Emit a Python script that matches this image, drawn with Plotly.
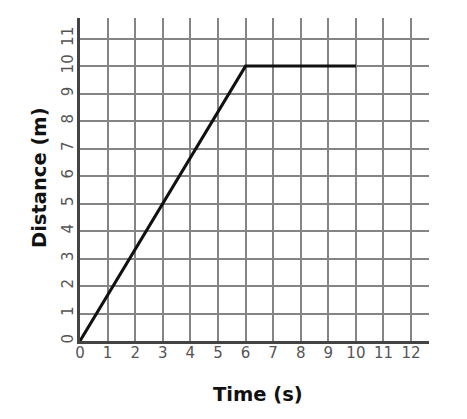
import plotly.graph_objects as go

time_s = [0, 6, 10]
distance_m = [0, 10, 10]
x_ticks = list(range(0, 13))
y_ticks = list(range(0, 12))

fig = go.Figure()
fig.add_trace(go.Scatter(x=time_s, y=distance_m, mode="lines",
                         line=dict(color="#111111", width=3), hoverinfo="skip"))

# page body has an 8px margin, so figure coords = screen coords - 8
OFF = 8
W, H = 467 - OFF, 419 - OFF
pl, pr, pt, pb = 80 - OFF, 429 - OFF, 18 - OFF, 341 - OFF
L, R, T, B = pl, W - pr, pt, H - pb
PW, PH = pr - pl, pb - pt

fig.update_layout(
    width=W, height=H,
    margin=dict(l=L, r=R, t=T, b=B, autoexpand=False),
    paper_bgcolor="white", plot_bgcolor="white",
    showlegend=False,
    font=dict(family="DejaVu Sans", color="#555555", size=15),
)
fig.update_xaxes(range=[0, 12.65], tickvals=x_ticks, ticktext=[str(v) for v in x_ticks],
                 showgrid=True, gridcolor="#858585", gridwidth=2,
                 showline=True, linecolor="#444444", linewidth=3,
                 zeroline=False, ticks="", ticklabelstandoff=-4, automargin=False,
                 tickfont=dict(family="DejaVu Sans", size=15, color="#555555"))
fig.update_yaxes(range=[0, 11.75], tickvals=y_ticks, ticktext=[str(v) for v in y_ticks],
                 showgrid=True, gridcolor="#858585", gridwidth=2,
                 showline=True, linecolor="#444444", linewidth=3,
                 zeroline=False, ticks="", tickangle=-90, ticklabelstandoff=-2, automargin=False,
                 tickfont=dict(family="DejaVu Sans", size=15, color="#555555"))

def px_to_paper_x(sx):
    return (sx - OFF - pl) / PW

def px_to_paper_y(sy):
    return (pb - (sy - OFF)) / PH

fig.add_annotation(text="<b>Time (s)</b>", xref="paper", yref="paper",
                   x=px_to_paper_x(258), y=px_to_paper_y(394),
                   xanchor="center", yanchor="middle",
                   showarrow=False, font=dict(family="DejaVu Sans", size=19.5, color="#111111"))
fig.add_annotation(text="<b>Distance (m)</b>", xref="paper", yref="paper",
                   x=px_to_paper_x(40), y=px_to_paper_y(178),
                   xanchor="center", yanchor="middle",
                   textangle=-90, showarrow=False,
                   font=dict(family="DejaVu Sans", size=19.5, color="#111111"))

fig.write_html("out.html")
